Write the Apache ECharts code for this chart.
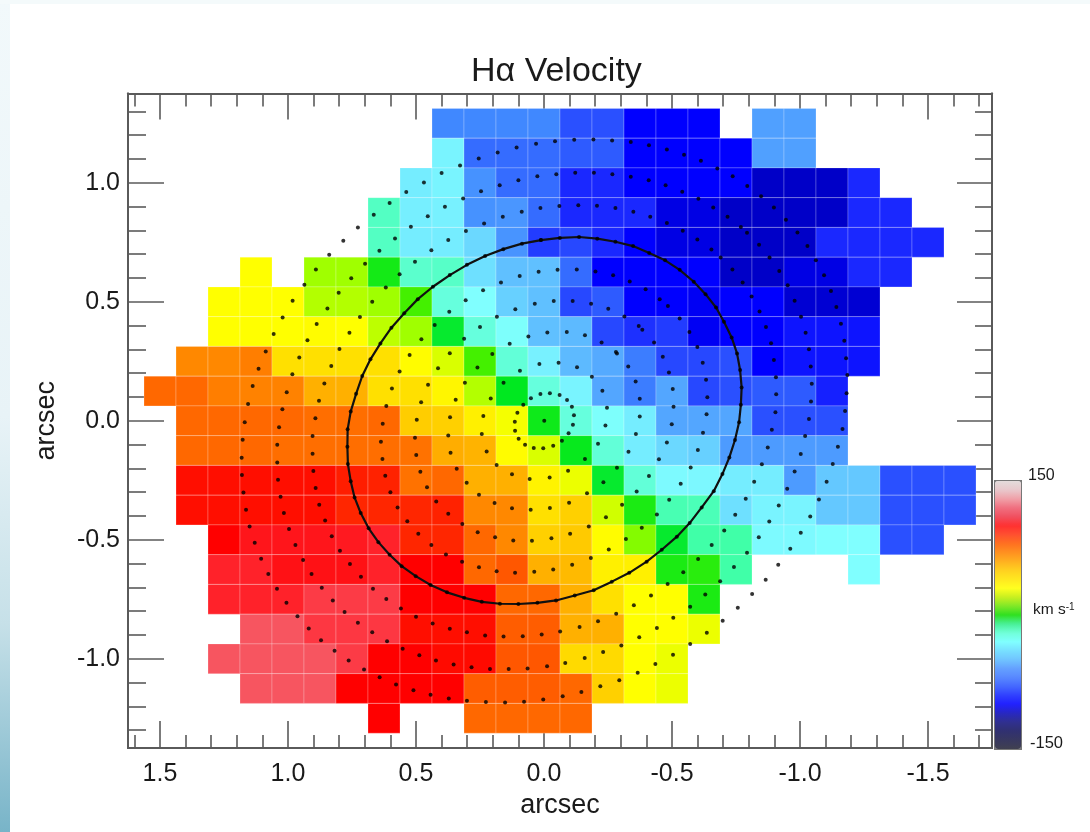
<!DOCTYPE html>
<html><head><meta charset="utf-8">
<style>html,body{margin:0;padding:0;background:#fff}#c{width:1090px;height:832px}</style>
<script src="https://cdn.jsdelivr.net/npm/echarts@6/dist/echarts.min.js"></script>
</head><body><div id="c"></div>
<script>
const N = null;
const titleText = 'Hα Velocity';
const axisName = 'arcsec';
const xMajor = [1.5,1,0.5,0,-0.5,-1,-1.5];
const xMinor = [1.6,1.4,1.3,1.2,1.1,0.9,0.8,0.7,0.6,0.4,0.3,0.2,0.1,-0.1,-0.2,-0.3,-0.4,-0.6,-0.7,-0.8,-0.9,-1.1,-1.2,-1.3,-1.4,-1.6,-1.7];
const yMajor = [-1,-0.5,0,0.5,1];
const yMinor = [1.3,1.2,1.1,0.9,0.8,0.7,0.6,0.4,0.3,0.2,0.1,-0.1,-0.2,-0.3,-0.4,-0.6,-0.7,-0.8,-0.9,-1.1,-1.2,-1.3];
// cell centres, arcsec
const colX = [1.5,1.375,1.25,1.125,1,0.875,0.75,0.625,0.5,0.375,0.25,0.125,0,-0.125,-0.25,-0.375,-0.5,-0.625,-0.75,-0.875,-1,-1.125,-1.25,-1.375,-1.5,-1.625];
const rowY = [1.25,1.125,1,0.875,0.75,0.625,0.5,0.375,0.25,0.125,0,-0.125,-0.25,-0.375,-0.5,-0.625,-0.75,-0.875,-1,-1.125,-1.25];
// velocity, km/s
const r01=[N,N,N,N,N,N,N,N,N,-70,-70,-70,-70,-80,-80,-100,-100,-100,N,-60,-60,N,N,N,N,N];
const r02=[N,N,N,N,N,N,N,N,N,-35,-75,-75,-75,-78,-78,-100,-100,-100,-100,-60,-60,N,N,N,N,N];
const r03=[N,N,N,N,N,N,N,N,-38,-35,-66,-75,-75,-90,-90,-100,-100,-100,-100,-110,-110,-110,-90,N,N,N];
const r04=[N,N,N,N,N,N,N,-15,-37,-36,-66,-64,-75,-90,-90,-90,-105,-105,-110,-110,-110,-110,-90,-90,N,N];
const r05=[N,N,N,N,N,N,N,-15,-38,-38,-44,-65,-85,-82,-90,-100,-105,-105,-110,-110,-110,-90,-90,-90,-90,N];
const r06=[N,N,N,30,N,20,20,3,-17,-16,-42,-50,-50,-75,-100,-100,-100,-100,-110,-110,-105,-105,-90,-90,N,N];
const r07=[N,N,30,30,30,22,22,20,10,-20,-30,-46,-50,-82,-78,-100,-100,-102,-100,-100,-108,-108,-108,N,N,N];
const r08=[N,N,30,30,30,31,30,23,20,-1,-20,-29,-50,-52,-82,-88,-85,-102,-100,-100,-95,-95,-95,N,N,N];
const r09=[N,70,70,73,40,40,40,40,31,26,10,-19,-36,-52,-57,-72,-82,-82,-80,-100,-95,-95,-95,N,N,N];
const r10=[80,80,73,72,72,55,55,40,40,33,22,0,-20,-35,-58,-72,-58,-82,-80,-78,-78,-92,N,N,N,N];
const r11=[N,80,80,80,80,78,78,80,46,45,35,29,2,-20,-29,-38,-58,-58,-58,-80,-80,-80,N,N,N,N];
const r12=[N,80,80,80,78,78,78,78,77,56,54,31,26,1,-19,-38,-44,-46,-62,-62,-62,-62,N,N,N,N];
const r13=[N,97,97,97,97,97,94,93,77,80,55,55,34,28,-1,-19,-32,-33,-38,-38,-62,-48,-48,-80,-80,-80];
const r14=[N,97,97,97,97,97,92,92,92,93,70,70,40,45,25,4,-12,-13,-42,-35,-35,-48,-48,-80,-80,-80];
const r15=[N,N,100,105,105,105,106,108,92,92,80,70,45,47,31,17,-1,-10,-10,-32,-32,-30,-30,-80,-80,N];
const r16=[N,N,108,108,104,104,104,108,100,100,80,83,55,52,35,35,4,6,-10,N,N,N,-30,N,N,N];
const r17=[N,N,108,108,108,114,114,114,100,100,100,80,80,55,40,30,30,4,N,N,N,N,N,N,N,N];
const r18=[N,N,N,120,120,113,113,113,97,97,97,82,82,55,55,30,30,28,N,N,N,N,N,N,N,N];
const r19=[N,N,120,120,120,120,114,100,100,98,98,83,83,42,42,30,28,N,N,N,N,N,N,N,N,N];
const r20=[N,N,N,120,120,120,100,100,100,100,82,82,82,80,45,30,28,N,N,N,N,N,N,N,N,N];
const r21=[N,N,N,N,N,N,N,100,N,N,80,80,80,80,N,N,N,N,N,N,N,N,N,N,N,N];
const rows = [r01,r02,r03,r04,r05,r06,r07,r08,r09,r10,r11,r12,r13,r14,r15,r16,r17,r18,r19,r20,r21];
// colour scale from -150 to 150, one entry per 10 km/s
const cellColors = ['#202038','#1c1c50','#151570','#0a0a90','#0000c8','#0000ff','#1a28ff','#2a50ff','#4088ff','#50a0ff','#60c0ff','#72e8ff','#80ffff','#66ffdd','#40ffa8','#00e820','#44f000','#a0ff00','#ffff00','#ffe000','#ffc000','#ffa000','#ff8800','#ff6800','#ff3000','#ff0000','#ff2a35','#f75560','#f59098','#ecc0c4','#e4dcdc'];
const barColors = ['#404050','#383860','#303070','#303090','#2828c0','#2020ff','#3040ff','#4468ff','#5888ff','#64a0ff','#70c4ff','#78e0ff','#80ffff','#70ffd8','#48f098','#30e020','#80e828','#c8f020','#ffff20','#ffe820','#ffd020','#ffb020','#ff9020','#ff7020','#ff5030','#ff3030','#f05060','#f07080','#f0a0a8','#e8c8cc','#e4dcdc'];
const barMax = 150, barMin = -150;
// the ellipse, in arcsec
const circlePath = [[0.012,0.759],[0.086,0.744],[0.159,0.721],[0.230,0.692],[0.301,0.655],[0.368,0.612],[0.434,0.563],[0.493,0.511],[0.546,0.452],[0.596,0.391],[0.639,0.325],[0.678,0.258],[0.710,0.188],[0.734,0.113],[0.755,0.039],[0.767,-0.036],[0.768,-0.109],[0.766,-0.182],[0.755,-0.254],[0.740,-0.322],[0.716,-0.388],[0.685,-0.452],[0.647,-0.510],[0.603,-0.563],[0.556,-0.611],[0.501,-0.653],[0.443,-0.690],[0.379,-0.721],[0.312,-0.744],[0.243,-0.761],[0.172,-0.769],[0.100,-0.770],[0.026,-0.765],[-0.047,-0.755],[-0.120,-0.734],[-0.194,-0.712],[-0.265,-0.676],[-0.333,-0.639],[-0.401,-0.592],[-0.460,-0.542],[-0.519,-0.487],[-0.569,-0.430],[-0.616,-0.364],[-0.663,-0.296],[-0.697,-0.224],[-0.724,-0.154],[-0.746,-0.081],[-0.762,-0.006],[-0.769,0.067],[-0.772,0.140],[-0.766,0.213],[-0.754,0.283],[-0.733,0.350],[-0.703,0.416],[-0.672,0.476],[-0.631,0.532],[-0.585,0.584],[-0.530,0.634],[-0.473,0.674],[-0.411,0.705],[-0.348,0.734],[-0.279,0.752],[-0.208,0.765],[-0.137,0.772],[-0.062,0.768],[0.012,0.759]];
// orbit dots, in arcsec
const dotsUpperLeft = [[0.031,1.164],[0.107,1.148],[0.181,1.127],[0.255,1.102],[0.328,1.073],[0.400,1.041],[0.469,1.001],[0.538,0.961],
[0.026,1.027],[0.100,1.011],[0.173,0.990],[0.246,0.964],[0.316,0.934],[0.387,0.899],[0.454,0.859],[0.520,0.815],[0.582,0.766],[0.643,0.714],
[0.603,0.915],[0.665,0.866],[0.727,0.812],[0.784,0.756],[0.839,0.698],[0.891,0.636],[0.936,0.571],[0.982,0.504],[1.021,0.434],[1.056,0.364],[1.087,0.291],[1.115,0.218],[1.138,0.146],[1.156,0.070],
[0.014,0.894],[0.087,0.878],[0.161,0.857],[0.234,0.829],[0.305,0.797],[0.374,0.759],[0.440,0.716],[0.504,0.668],[0.564,0.616],[0.618,0.560],[0.671,0.500],[0.719,0.436],[0.760,0.370],[0.799,0.301],[0.831,0.230],[0.858,0.157],[0.879,0.084],[0.893,0.010],
[0.699,0.660],[0.753,0.599],[0.802,0.538],[0.846,0.472],[0.888,0.406],[0.924,0.338],[0.956,0.266],[0.983,0.195],[1.005,0.120],[1.022,0.048],
[0.021,0.626],[0.095,0.608],[0.168,0.581],[0.238,0.548],[0.306,0.506],[0.370,0.458],[0.427,0.402],[0.479,0.342],[0.525,0.276],[0.564,0.207],[0.594,0.136],[0.616,0.062],
[0.036,0.492],[0.112,0.469],[0.184,0.437],[0.250,0.394],[0.312,0.345],[0.368,0.284],[0.414,0.221],[0.453,0.151],[0.480,0.078],[0.497,0.004],
[-0.013,0.371],[0.061,0.354],[0.134,0.324],[0.202,0.280],[0.260,0.224],[0.309,0.160],[0.345,0.088],[0.367,0.015],
[0.018,0.238],[0.094,0.210],[0.158,0.160],[0.208,0.094],[0.237,0.020]];
const dotsUpperRight = [[-0.043,1.174],[-0.118,1.181],[-0.193,1.182],[-0.266,1.178],[-0.339,1.171],[-0.410,1.158],[-0.480,1.140],[-0.547,1.118],[-0.613,1.092],[-0.677,1.060],[-0.737,1.027],[-0.794,0.986],[-0.848,0.943],[-0.898,0.896],[-0.945,0.845],[-0.990,0.791],[-1.029,0.734],[-1.062,0.674],[-1.094,0.611],[-1.121,0.545],[-1.142,0.478],[-1.160,0.408],[-1.173,0.336],[-1.180,0.263],[-1.185,0.192],[-1.182,0.116],[-1.176,0.041],
[-0.048,1.036],[-0.122,1.042],[-0.195,1.042],[-0.267,1.036],[-0.339,1.025],[-0.409,1.010],[-0.475,0.989],[-0.540,0.962],[-0.603,0.933],[-0.661,0.896],[-0.717,0.857],[-0.769,0.814],[-0.793,0.790],[-0.840,0.740],[-0.881,0.686],[-0.919,0.629],[-0.952,0.569],[-0.979,0.504],[-1.004,0.437],[-1.022,0.370],[-1.035,0.300],[-1.042,0.228],[-1.046,0.155],[-1.043,0.081],[-1.035,0.007],
[-0.060,0.902],[-0.134,0.905],[-0.207,0.903],[-0.279,0.894],[-0.349,0.878],[-0.415,0.857],[-0.480,0.831],[-0.542,0.798],[-0.599,0.762],[-0.654,0.720],[-0.690,0.686],[-0.736,0.636],[-0.776,0.581],[-0.811,0.522],[-0.842,0.459],[-0.867,0.394],[-0.887,0.326],[-0.898,0.255],[-0.906,0.183],[-0.907,0.111],[-0.904,0.036],
[-0.053,0.634],[-0.128,0.636],[-0.201,0.627],[-0.270,0.611],[-0.335,0.585],[-0.397,0.552],[-0.452,0.511],[-0.484,0.482],[-0.530,0.430],[-0.568,0.373],[-0.599,0.310],[-0.620,0.244],[-0.633,0.172],[-0.638,0.099],[-0.635,0.027],
[-0.038,0.503],[-0.112,0.503],[-0.184,0.492],[-0.251,0.471],[-0.314,0.438],[-0.370,0.398],[-0.384,0.382],[-0.430,0.329],[-0.464,0.269],[-0.488,0.203],[-0.503,0.133],[-0.506,0.059],[-0.499,-0.015],
[-0.089,0.373],[-0.160,0.359],[-0.225,0.329],[-0.281,0.289],[-0.285,0.283],[-0.329,0.228],[-0.358,0.165],[-0.374,0.092],[-0.374,0.018],
[-0.057,0.244],[-0.129,0.225],[-0.187,0.185],[-0.228,0.126],[-0.246,0.055],[-0.240,-0.020]];
const dotsCentre = [[0.081,0.067],[0.051,0.095],[0.014,0.112],[-0.023,0.116],[-0.061,0.108],[-0.090,0.087],[-0.109,0.059],[0.104,0.034],[-0.117,0.023],[0.114,-0.004],[-0.001,0.000],[-0.113,-0.017],[0.113,-0.042],[-0.096,-0.053],[0.099,-0.076],[-0.070,-0.084],[0.074,-0.101],[0.040,-0.115],[0.003,-0.116],[-0.036,-0.105]];
const dotsLowerLeft = [[1.169,-0.006],[1.177,-0.080],[1.181,-0.155],[1.180,-0.228],[1.174,-0.301],[1.164,-0.374],[1.150,-0.444],[1.130,-0.513],[1.105,-0.580],[1.077,-0.644],[1.043,-0.706],[1.006,-0.765],[0.963,-0.821],[0.919,-0.873],[0.871,-0.922],[0.818,-0.966],[0.763,-1.007],[0.703,-1.045],[0.642,-1.078],[0.578,-1.108],[0.510,-1.132],[0.443,-1.151],[0.372,-1.167],[0.301,-1.176],[0.227,-1.182],[0.152,-1.184],[0.078,-1.181],[0.003,-1.171],
[1.035,-0.027],[1.042,-0.101],[1.042,-0.175],[1.039,-0.248],[1.029,-0.319],[1.016,-0.388],[0.996,-0.455],[0.971,-0.522],[0.941,-0.585],[0.908,-0.644],[0.868,-0.702],[0.825,-0.755],[0.779,-0.804],[0.727,-0.849],[0.671,-0.889],[0.613,-0.926],[0.552,-0.958],[0.487,-0.985],[0.422,-1.007],[0.353,-1.024],[0.283,-1.036],[0.211,-1.043],[0.138,-1.043],[0.064,-1.041],[-0.012,-1.031],
[0.904,-0.064],[0.904,-0.139],[0.901,-0.211],[0.892,-0.283],[0.878,-0.353],[0.855,-0.419],[0.829,-0.485],[0.797,-0.546],[0.758,-0.602],[0.715,-0.655],[0.668,-0.706],[0.616,-0.749],[0.559,-0.789],[0.500,-0.824],[0.435,-0.852],[0.368,-0.874],[0.301,-0.889],[0.230,-0.902],[0.158,-0.906],[0.083,-0.905],[0.009,-0.898],
[0.630,-0.013],[0.637,-0.088],[0.631,-0.161],[0.620,-0.231],[0.600,-0.300],[0.572,-0.364],[0.534,-0.422],[0.491,-0.475],[0.440,-0.522],[0.383,-0.562],[0.320,-0.592],[0.254,-0.616],[0.185,-0.632],[0.113,-0.639],[0.038,-0.634],[-0.036,-0.625],
[0.504,-0.071],[0.499,-0.144],[0.483,-0.214],[0.457,-0.279],[0.421,-0.339],[0.374,-0.391],[0.319,-0.434],[0.259,-0.468],[0.191,-0.490],[0.120,-0.503],[0.047,-0.504],[-0.029,-0.494],
[0.374,-0.062],[0.365,-0.134],[0.341,-0.202],[0.302,-0.261],[0.254,-0.311],[0.193,-0.346],[0.125,-0.368],[0.052,-0.374],[-0.023,-0.367],
[0.243,-0.056],[0.224,-0.129],[0.185,-0.186],[0.125,-0.225],[0.056,-0.245],[-0.022,-0.238]];
const dotsLowerRight = [[-0.359,-0.056],[-0.621,-0.050],[-0.890,-0.038],[-1.020,-0.064],[-1.166,-0.035],[-1.148,-0.109],[-1.003,-0.140],[-0.874,-0.112],[-0.601,-0.123],[-0.480,-0.091],[-0.330,-0.130],[-0.211,-0.097],[-0.160,-0.161],
[-1.128,-0.182],[-0.979,-0.213],[-0.851,-0.183],[-0.573,-0.196],[-0.449,-0.162],[-0.410,-0.232],[-0.285,-0.197],[-0.232,-0.258],[-0.168,-0.305],[-0.094,-0.210],[-1.104,-0.256],[-0.950,-0.286],[-0.821,-0.256],[-0.534,-0.265],[-0.362,-0.297],[-1.074,-0.331],[-0.917,-0.356],[-0.788,-0.328],[-0.489,-0.332],[-0.305,-0.353],[-0.242,-0.405],[-0.098,-0.345],[-1.040,-0.402],[-0.880,-0.423],[-0.747,-0.395],[-0.441,-0.394],[-1.003,-0.471],[-0.839,-0.490],[-0.704,-0.461],[-0.382,-0.450],[-0.175,-0.444],[-0.102,-0.475],[-0.962,-0.538],[-0.655,-0.522],[-0.320,-0.497],[-0.253,-0.541],[-0.793,-0.555],[-0.915,-0.605],[-0.602,-0.581],[-0.183,-0.577],[-0.110,-0.605],[-0.742,-0.615],[-0.866,-0.668],[-0.544,-0.637],[-0.688,-0.674],[-0.483,-0.686],[-0.813,-0.728],[-0.630,-0.730],[-0.418,-0.734],[-0.351,-0.775],[-0.757,-0.786],[-0.571,-0.782],[-0.282,-0.811],[-0.698,-0.840],[-0.505,-0.828],[-0.211,-0.842],[-0.139,-0.867],[-0.063,-0.885],[-0.441,-0.871],[-0.372,-0.910],[-0.636,-0.891],[-0.571,-0.938],[-0.302,-0.944],[-0.231,-0.972],[-0.159,-0.997],[-0.083,-1.018],[-0.504,-0.983],[-0.435,-1.022],[-0.366,-1.059],[-0.294,-1.090],[-0.220,-1.116],[-0.146,-1.140],[-0.073,-1.158]];

const cells = [];
rows.forEach((row, r) => row.forEach((v, c) => { if (v !== N) cells.push([colX[c], rowY[r], v]); }));
const halfW = Math.abs(colX[1] - colX[0]) / 2, halfH = Math.abs(rowY[1] - rowY[0]) / 2;
const INK = '#1a1a1a', AX = '#5a5a5a';
const axLine = {show:true,onZero:false,lineStyle:{color:AX,width:2}};
const xBase = { type:'value', inverse:true, min:-1.75, max:1.625, splitLine:{show:false}, axisLine:axLine };
const yBase = { type:'value', min:-1.375, max:1.375, splitLine:{show:false}, axisLine:axLine };
const noLabel = { show:false };
const tick = (vals, len) => ({ show:true, inside:true, length:len, customValues:vals, lineStyle:{color:AX,width:1.6} });
const fmt = v => Number(v).toFixed(1);

const chart = echarts.init(document.getElementById('c'), null, {renderer:'canvas'});
chart.setOption({
  animation:false, backgroundColor:'#ffffff',
  title:{ text:titleText, left:466, top:50, textAlign:'left', textStyle:{fontFamily:'Liberation Sans',fontSize:34,fontWeight:'normal',color:INK} },
  grid:{ left:128, right:98, top:93.5, height:654.5, containLabel:false },
  xAxis:[
    {...xBase, position:'bottom', axisTick:tick(xMajor,27),
      axisLabel:{show:true,customValues:xMajor,formatter:fmt,margin:14,fontFamily:'Liberation Sans',fontSize:25,color:INK},
      name:axisName,nameLocation:'middle',nameGap:41,nameTextStyle:{fontFamily:'Liberation Sans',fontSize:27,color:INK}},
    {...xBase, position:'bottom', axisTick:tick(xMinor,13), axisLabel:noLabel},
    {...xBase, position:'top', axisTick:tick(xMajor,26), axisLabel:noLabel},
    {...xBase, position:'top', axisTick:tick(xMinor,13), axisLabel:noLabel}
  ],
  yAxis:[
    {...yBase, position:'left', axisTick:tick(yMajor,36),
      axisLabel:{show:true,customValues:yMajor,formatter:fmt,margin:8,fontFamily:'Liberation Sans',fontSize:25,color:INK},
      name:axisName,nameLocation:'middle',nameGap:68,nameRotate:90,nameTextStyle:{fontFamily:'Liberation Sans',fontSize:27,color:INK}},
    {...yBase, position:'left', axisTick:tick(yMinor,18), axisLabel:noLabel},
    {...yBase, position:'right', axisTick:tick(yMajor,35), axisLabel:noLabel},
    {...yBase, position:'right', axisTick:tick(yMinor,17), axisLabel:noLabel}
  ],
  visualMap:{ type:'continuous', seriesIndex:0, dimension:2, min:barMin, max:barMax, calculable:false, realtime:false, text:null,
    left:994, top:480, itemWidth:26, itemHeight:268, padding:0, borderColor:'#777', borderWidth:2, showLabel:false, hoverLink:false,
    inRange:{color:cellColors}, controller:{inRange:{color:barColors}} },
  graphic:[
    {type:'rect',silent:true,z:-10,shape:{x:0,y:0,width:10,height:832},style:{fill:new echarts.graphic.LinearGradient(0,0,0,1,[{offset:0,color:'#f2f9fb'},{offset:0.5,color:'#e8f3f7'},{offset:0.75,color:'#c6e0e8'},{offset:1,color:'#78b4c8'}])}},
    {type:'rect',silent:true,z:-10,shape:{x:0,y:0,width:1090,height:4},style:{fill:'#f4fafb'}},
    {type:'text',silent:true,left:1028,top:468,style:{text:'150',fontFamily:'Liberation Sans',fontSize:16,fill:INK}},
    {type:'text',silent:true,left:1030,top:735,style:{text:'-150',fontFamily:'Liberation Sans',fontSize:16.5,fill:INK}},
    {type:'text',silent:true,left:1033,top:602,style:{text:'km s{s|-1}',fontFamily:'Liberation Sans',fontSize:15.5,fill:INK,rich:{s:{fontFamily:'Liberation Sans',fontSize:10,verticalAlign:'top',fill:INK}}}}
  ],
  series:[
    { type:'custom', coordinateSystem:'cartesian2d', xAxisIndex:0, yAxisIndex:0, silent:true, z:2, clip:true,
      data:cells, encode:{x:0,y:1},
      renderItem:(params, api) => {
        const a = api.coord([api.value(0)+halfW, api.value(1)+halfH]);
        const b = api.coord([api.value(0)-halfW, api.value(1)-halfH]);
        return { type:'rect', shape:{x:a[0],y:a[1],width:b[0]-a[0],height:b[1]-a[1]},
          style:{fill:api.visual('color'),stroke:'rgba(255,255,255,0.22)',lineWidth:1} };
      } },
    { type:'line', data:circlePath, showSymbol:false, smooth:false, silent:true, z:3, lineStyle:{color:'#111',width:2.2} },
    { type:'scatter', silent:true, z:4, symbolSize:4, itemStyle:{color:'#000'},
      data:[...dotsUpperLeft,...dotsUpperRight,...dotsCentre,...dotsLowerLeft,...dotsLowerRight,...circlePath] }
  ]
});
</script></body></html>
